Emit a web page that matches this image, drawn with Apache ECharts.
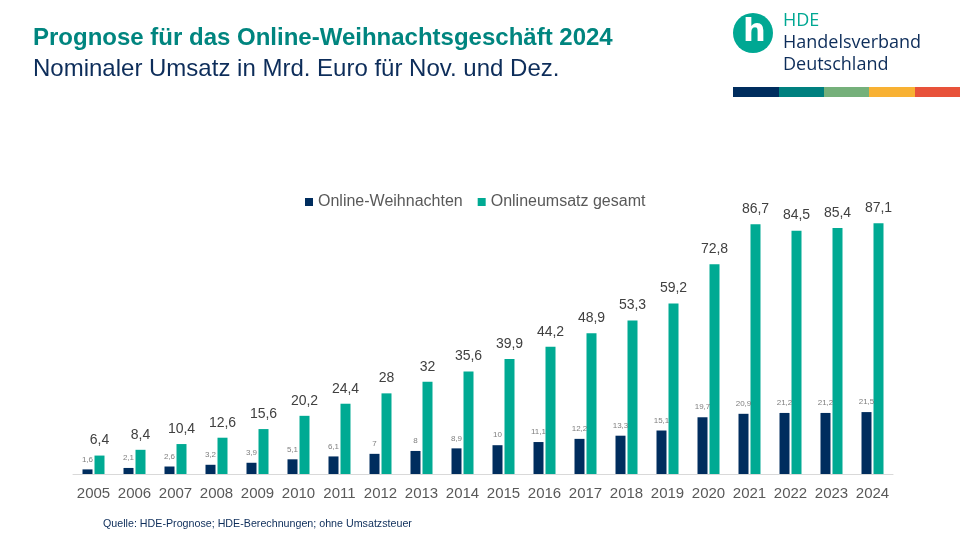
<!DOCTYPE html>
<html><head><meta charset="utf-8">
<script src="https://cdn.jsdelivr.net/npm/echarts@6/dist/echarts.min.js"></script>
<style>html,body{margin:0;padding:0;background:#fff}#c{width:960px;height:540px}</style>
</head><body><div id="c"></div>
<script>
const years = ['2005','2006','2007','2008','2009','2010','2011','2012','2013','2014','2015','2016','2017','2018','2019','2020','2021','2022','2023','2024'];
const onlineWeihnachten = [1.6,2.1,2.6,3.2,3.9,5.1,6.1,7,8,8.9,10,11.1,12.2,13.3,15.1,19.7,20.9,21.2,21.2,21.5];
const onlineGesamt = [6.4,8.4,10.4,12.6,15.6,20.2,24.4,28,32,35.6,39.9,44.2,48.9,53.3,59.2,72.8,86.7,84.5,85.4,87.1];
const seriesNames = ['Online-Weihnachten','Onlineumsatz gesamt'];

const NAVY = '#002d5e', TEAL = '#00aa93';
const fmt = p => String(p.value).replace('.', ',');
const chart = echarts.init(document.getElementById('c'));
const font = 'Liberation Sans, Arial, sans-serif';
chart.setOption({
  animation: false,
  textStyle: {fontFamily: font},
  grid: {left: 73, right: 67, top: 186, height: 288},
  legend: {
    data: seriesNames, top: 189, left: 300, itemWidth: 8, itemHeight: 8, itemGap: 15,
    icon: 'rect', textStyle: {fontSize: 16, color: '#595959', fontFamily: font}
  },
  xAxis: {
    type: 'category', data: years,
    axisLine: {lineStyle: {color: '#d9d9d9', width: 1}},
    axisTick: {show: false},
    axisLabel: {interval: 0, fontSize: 15, color: '#595959', margin: 12, fontFamily: font}
  },
  yAxis: {type: 'value', min: 0, max: 100, show: false, splitLine: {show: false}},
  series: [
    {name: seriesNames[0], type: 'bar', data: onlineWeihnachten, barWidth: 10, barGap: '20%',
     itemStyle: {color: NAVY},
     label: {show: true, position: 'top', distance: 6, formatter: fmt, fontSize: 8, color: '#7f7f7f', fontFamily: font}},
    {name: seriesNames[1], type: 'bar', data: onlineGesamt, barWidth: 10,
     itemStyle: {color: TEAL},
     label: {show: true, position: 'top', distance: 8, formatter: fmt, fontSize: 14, color: '#404040', fontFamily: font}}
  ],
  graphic: [
    {type: 'text', x: 33, y: 38, style: {text: 'Prognose für das Online-Weihnachtsgeschäft 2024', fontSize: 24, fontWeight: 'bold', fill: '#00857f', fontFamily: font, verticalAlign: 'middle'}},
    {type: 'text', x: 33, y: 69, style: {text: 'Nominaler Umsatz in Mrd. Euro für Nov. und Dez.', fontSize: 24, fill: '#0d2d5a', fontFamily: font, verticalAlign: 'middle'}},
    {type: 'circle', shape: {cx: 753, cy: 33, r: 20}, style: {fill: '#00a893'}},
    {type: 'text', left: 743, top: 17, style: {text: 'h', fontSize: 32, fontWeight: 'bold', fill: '#fff', fontFamily: 'DejaVu Sans'}},
    {type: 'text', left: 783, top: 12, style: {text: 'HDE', fontSize: 18, fill: '#00a893', fontFamily: 'Open Sans'}},
    {type: 'text', left: 783, top: 34, style: {text: 'Handelsverband', fontSize: 18, fill: '#0d2d5a', fontFamily: 'Open Sans'}},
    {type: 'text', left: 783, top: 56, style: {text: 'Deutschland', fontSize: 18, fill: '#0d2d5a', fontFamily: 'Open Sans'}},
    {type: 'rect', shape: {x: 733, y: 87, width: 46, height: 10}, style: {fill: '#002d5e'}},
    {type: 'rect', shape: {x: 779, y: 87, width: 45, height: 10}, style: {fill: '#00807f'}},
    {type: 'rect', shape: {x: 824, y: 87, width: 45, height: 10}, style: {fill: '#75b07a'}},
    {type: 'rect', shape: {x: 869, y: 87, width: 46, height: 10}, style: {fill: '#f8b133'}},
    {type: 'rect', shape: {x: 915, y: 87, width: 45, height: 10}, style: {fill: '#e8523a'}},
    {type: 'text', x: 103, y: 524, style: {text: 'Quelle: HDE-Prognose; HDE-Berechnungen; ohne Umsatzsteuer', fontSize: 10.7, fill: '#0d2d5a', fontFamily: font, verticalAlign: 'middle'}}
  ]
});
</script></body></html>
